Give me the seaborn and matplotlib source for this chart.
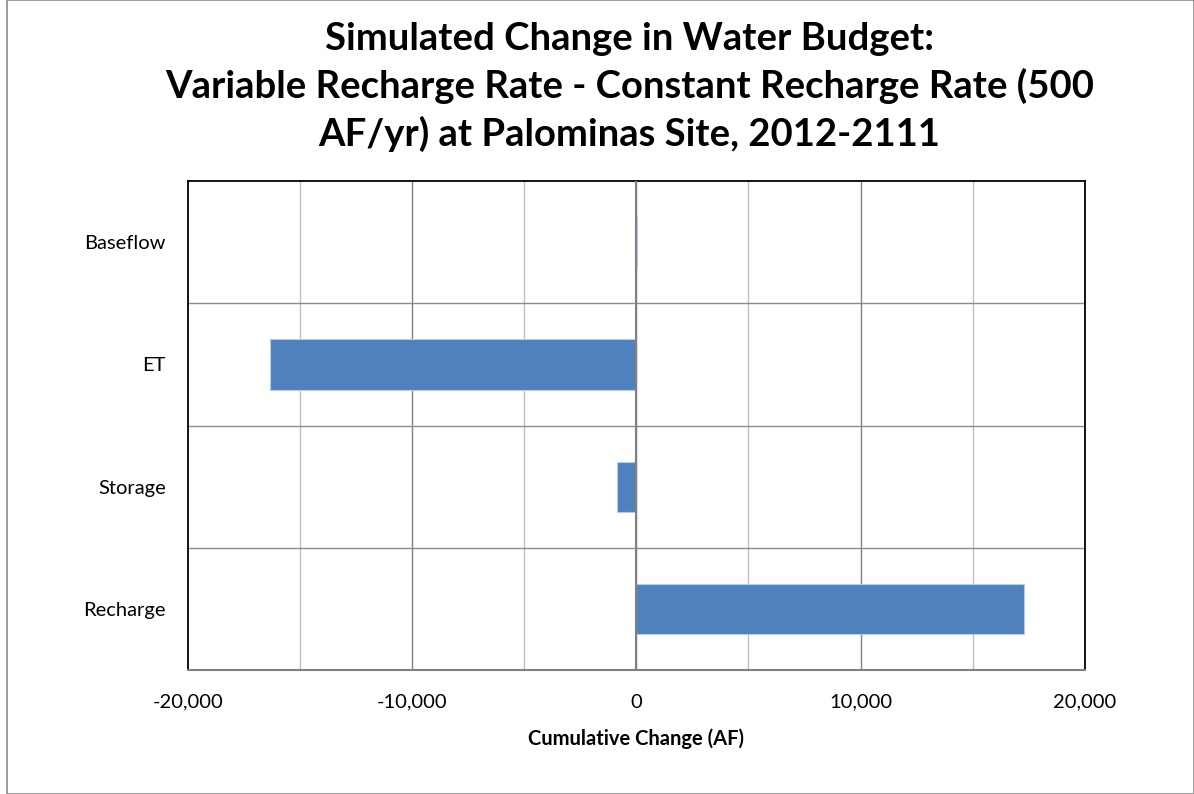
import seaborn as sns
import matplotlib.pyplot as plt
import pandas as pd
from matplotlib.ticker import FuncFormatter
from matplotlib.patches import Rectangle

# budget components and cumulative change (AF)
components = ["Baseflow", "ET", "Storage", "Recharge"]
change_af = [20, -16350, -850, 17300]

df = pd.DataFrame({"component": components, "change": change_af})

sns.set_style("white")
plt.rcParams['font.family'] = ['Lato', 'DejaVu Sans']
plt.rcParams['text.color'] = 'black'
plt.rcParams['xtick.color'] = 'black'
plt.rcParams['ytick.color'] = 'black'
plt.rcParams['axes.labelcolor'] = 'black'

fig = plt.figure(figsize=(11.94, 7.94), dpi=100)
ax = fig.add_axes([0.1575, 0.156, 0.751, 0.616])

sns.barplot(data=df, x="change", y="component", orient="h", color="#4f81bd",
            saturation=1, width=0.41, ax=ax, edgecolor="#b8cce4", linewidth=0.8, zorder=3)

ax.set_xlim(-20000, 20000)
ax.set_ylim(3.5, -0.5)
ax.set_xticks(range(-20000, 20001, 10000))
ax.xaxis.set_major_formatter(FuncFormatter(lambda v, p: f"{int(v):,}"))

# vertical gridlines every 5000, horizontal lines between categories
for xv in range(-15000, 20000, 5000):
    ax.axvline(xv, color="#c0c0c0" if xv % 10000 else "#808080", lw=1.0, zorder=1)
ax.axvline(0, color="#808080", lw=1.5, zorder=4)
for yv in [0.5, 1.5, 2.5]:
    ax.axhline(yv, color="#8c8c8c", lw=1.0, zorder=1)

for side in ["left", "top", "right"]:
    ax.spines[side].set_color("black")
    ax.spines[side].set_linewidth(1.3)
ax.spines["bottom"].set_color("#808080")
ax.spines["bottom"].set_linewidth(1.5)

ax.tick_params(axis="x", length=0, pad=17, labelsize=14.5)
ax.tick_params(axis="y", length=0, pad=16, labelsize=14.5)
ax.set_ylabel("")
ax.set_xlabel("Cumulative Change (AF)", fontsize=14.5, fontweight="bold", labelpad=13)

fig.text(0.527, 0.972,
         "Simulated Change in Water Budget:\nVariable Recharge Rate - Constant Recharge Rate (500\nAF/yr) at Palominas Site, 2012-2111",
         ha="center", va="top", fontsize=27.5, fontweight="bold", linespacing=1.38)

fig.patches.append(Rectangle((0.006, 0.0), 0.994, 1.0, transform=fig.transFigure,
                             fill=False, edgecolor="#8c8c8c", lw=1.2))

fig.savefig("out.png", dpi=100)
plt.close()
